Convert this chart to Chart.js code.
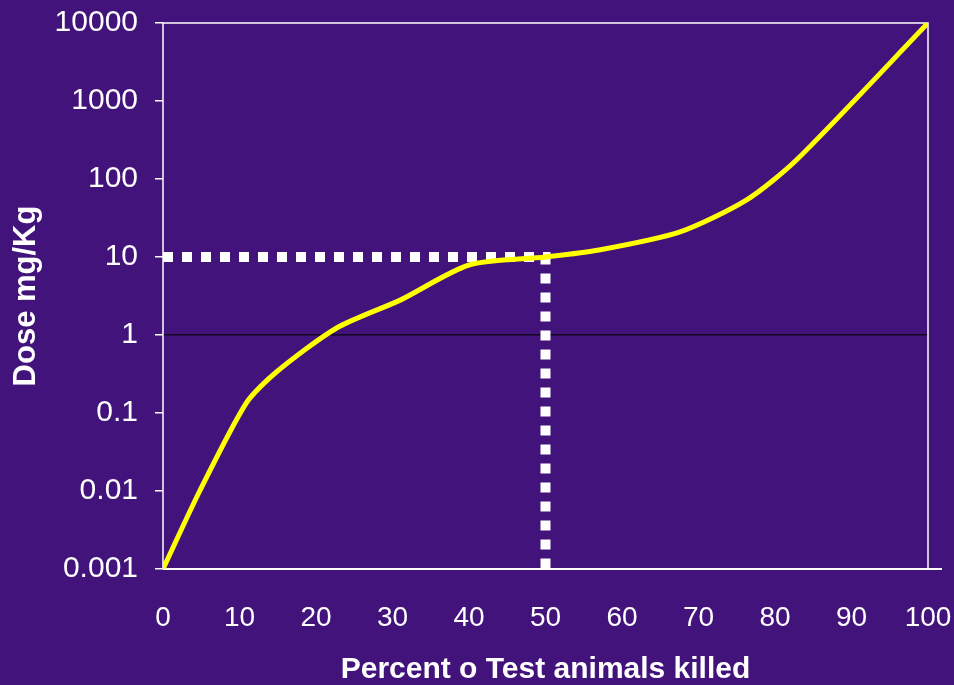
<!DOCTYPE html>
<html>
<head>
<meta charset="utf-8">
<script src="https://cdn.jsdelivr.net/npm/chart.js@4.4.0/dist/chart.umd.min.js"></script>
<style>
  html, body { margin: 0; padding: 0; background: #42137a; }
  #wrap { width: 954px; height: 685px; }
</style>
</head>
<body>
<div id="wrap"><canvas id="chart" width="954" height="685"></canvas></div>
<script>
// percent killed vs dose
var percentKilled = [0, 4.8, 10.9, 14.9, 22.7, 31, 40, 50, 57, 67.6, 76.3, 82.8, 100];
var doseMgKg = [0.001, 0.01, 0.135, 0.34, 1.23, 2.8, 7.9, 10, 12.3, 21, 54, 175, 10000];

// LD50 guide line
var ld50X = [0, 50, 50];
var ld50Y = [10, 10, 0.001];

var yTicks = [0.001, 0.01, 0.1, 1, 10, 100, 1000, 10000];
var yTickLabels = ['0.001', '0.01', '0.1', '1', '10', '100', '1000', '10000'];

function pts(xs, ys) {
    return xs.map(function (x, i) { return { x: x, y: ys[i] }; });
}

// white frame around the plot area
var frame = {
    id: 'frame',
    beforeDatasetsDraw: function (chart) {
        var a = chart.chartArea, ctx = chart.ctx;
        ctx.save();
        ctx.strokeStyle = '#ffffff';
        ctx.lineWidth = 1.5;
        ctx.beginPath();
        ctx.moveTo(a.left, a.bottom);
        ctx.lineTo(a.left, a.top);
        ctx.lineTo(a.right, a.top);
        ctx.lineTo(a.right, a.bottom);
        ctx.stroke();
        ctx.lineWidth = 2;
        ctx.beginPath();
        ctx.moveTo(a.left, a.bottom);
        ctx.lineTo(a.right + 14, a.bottom);
        ctx.stroke();
        ctx.restore();
    }
};

Chart.defaults.font.family = '"Liberation Sans", Arial, sans-serif';
Chart.defaults.color = '#ffffff';

new Chart(document.getElementById('chart'), {
    type: 'line',
    data: {
        datasets: [
            {
                data: pts(percentKilled, doseMgKg),
                borderColor: '#ffff00',
                borderWidth: 5,
                pointRadius: 0,
                tension: 0.25,
                fill: false
            },
            {
                data: pts(ld50X, ld50Y),
                borderColor: '#ffffff',
                borderWidth: 10,
                borderDash: [10, 9],
                borderCapStyle: 'butt',
                pointRadius: 0,
                tension: 0,
                fill: false
            }
        ]
    },
    options: {
        responsive: false,
        animation: false,
        layout: { padding: { top: 23, right: 26, left: 8, bottom: 0 } },
        plugins: { legend: { display: false }, tooltip: { enabled: false } },
        scales: {
            x: {
                type: 'linear',
                min: 0,
                max: 100,
                grid: { display: false },
                border: { display: false },
                ticks: { stepSize: 10, padding: 24, font: { size: 28 }, color: '#ffffff' },
                title: {
                    display: true,
                    text: 'Percent o Test animals killed',
                    font: { size: 30, weight: 'bold', lineHeight: 1 },
                    color: '#ffffff',
                    padding: { top: 20, bottom: 0 }
                },
                afterFit: function (s) {
                    s.height = 116;
                    s.paddingLeft = 0;
                    s.paddingRight = 0;
                }
            },
            y: {
                type: 'logarithmic',
                min: 0.001,
                max: 10000,
                afterBuildTicks: function (s) {
                    s.ticks = yTicks.map(function (v) { return { value: v }; });
                },
                grid: {
                    color: function (c) { return c.tick && c.tick.value === 1 ? '#14061f' : 'rgba(0,0,0,0)'; },
                    tickColor: '#ffffff',
                    tickLength: 8,
                    lineWidth: 1.5
                },
                border: { display: false },
                ticks: {
                    padding: 17,
                    font: { size: 30 },
                    color: '#ffffff',
                    callback: function (v) {
                        var i = yTicks.indexOf(v);
                        return i >= 0 ? yTickLabels[i] : '';
                    }
                },
                title: {
                    display: true,
                    text: 'Dose mg/Kg',
                    font: { size: 31, weight: 'bold' },
                    color: '#ffffff',
                    padding: { top: 0, bottom: 0 }
                },
                afterFit: function (s) {
                    s.width = 155;
                    s.paddingTop = 0;
                    s.paddingBottom = 0;
                }
            }
        }
    },
    plugins: [frame]
});
</script>
</body>
</html>
